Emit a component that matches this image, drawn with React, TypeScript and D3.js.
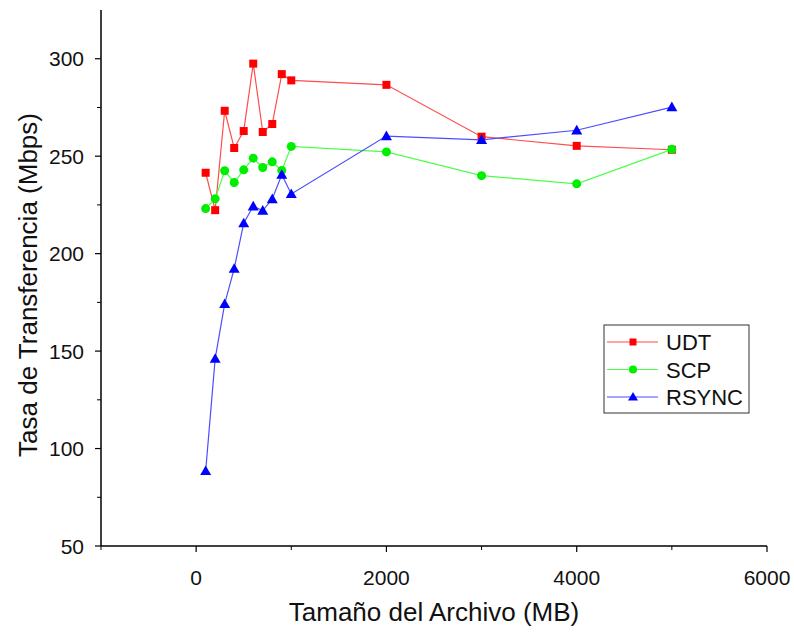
import React from "react";
import * as d3 from "d3";

const sizes = [100, 200, 300, 400, 500, 600, 700, 800, 900, 1000, 2000, 3000, 4000, 5000];
const udt = [241.5, 222.3, 273.3, 254.2, 262.9, 297.5, 262.4, 266.5, 292.1, 288.9, 286.6, 260, 255.3, 253.3];
const scp = [223.1, 228.1, 242.5, 236.5, 243, 249, 244.2, 247.1, 242.7, 255, 252.2, 240, 235.8, 253.5];
const rsync = [88.5, 146.1, 174.2, 192.3, 215.6, 224.3, 222.1, 228, 240.5, 230.6, 260.3, 258.4, 263.3, 275.2];
const seriesNames = ["UDT", "SCP", "RSYNC"];
const xMajorTicks = [0, 2000, 4000, 6000];
const xMinorTicks = [-1000, 1000, 3000, 5000];
const yMajorTicks = [50, 100, 150, 200, 250, 300];
const yMinorTicks = [75, 125, 175, 225, 275];

const FONT = "'Liberation Sans', Arial, sans-serif";

export default function App() {
  const W = 794, H = 633;
  const x = d3.scaleLinear().domain([-1000, 6000]).range([101, 767]);
  const y = d3.scaleLinear().domain([50, 325]).range([546, 10]);
  const series = [
    { name: seriesNames[0], values: udt, line: "#ff4d4d", fill: "#ff0000", shape: "square" },
    { name: seriesNames[1], values: scp, line: "#4dff4d", fill: "#00ee00", shape: "circle" },
    { name: seriesNames[2], values: rsync, line: "#4d4dff", fill: "#0000ff", shape: "triangle" },
  ];
  const lineGen = d3.line<[number, number]>().x((d) => x(d[0])).y((d) => y(d[1]));
  const marker = (shape: string, cx: number, cy: number, fill: string, key: any) => {
    if (shape === "square") return <rect key={key} x={cx - 4} y={cy - 4} width={8} height={8} fill={fill} />;
    if (shape === "circle") return <circle key={key} cx={cx} cy={cy} r={4.5} fill={fill} />;
    const s = 5.5;
    return <path key={key} d={`M${cx},${cy - s}L${cx + s},${cy + s * 0.75}L${cx - s},${cy + s * 0.75}Z`} fill={fill} />;
  };
  const legendX = 604, legendY = 325;
  return (
    <svg width={W} height={H} style={{ position: "absolute", left: 0, top: 0, background: "#fff" }} fontFamily={FONT}>
      {/* axes */}
      <line x1={101} x2={101} y1={10} y2={546} stroke="#000" strokeWidth={1.5} />
      <line x1={101} x2={767} y1={546} y2={546} stroke="#000" strokeWidth={1.5} />
      {yMajorTicks.map((t) => (
        <g key={"ym" + t}>
          <line x1={95} x2={101} y1={y(t)} y2={y(t)} stroke="#000" strokeWidth={1.2} />
          <text x={84} y={y(t) + 7.5} textAnchor="end" fontSize={21} fill="#111">{t}</text>
        </g>
      ))}
      {yMinorTicks.map((t) => (
        <line key={"yn" + t} x1={97} x2={101} y1={y(t)} y2={y(t)} stroke="#000" strokeWidth={1} />
      ))}
      {xMajorTicks.map((t) => (
        <g key={"xm" + t}>
          <line x1={x(t)} x2={x(t)} y1={546} y2={552} stroke="#000" strokeWidth={1.2} />
          <text x={x(t)} y={585} textAnchor="middle" fontSize={21} fill="#111">{t}</text>
        </g>
      ))}
      {xMinorTicks.map((t) => (
        <line key={"xn" + t} x1={x(t)} x2={x(t)} y1={546} y2={550} stroke="#000" strokeWidth={1} />
      ))}
      <text x={434} y={621} textAnchor="middle" fontSize={26} fill="#111">Tamaño del Archivo (MB)</text>
      <text transform={`translate(37,285) rotate(-90)`} textAnchor="middle" fontSize={26} fill="#111">Tasa de Transferencia (Mbps)</text>
      {/* series */}
      {series.map((s) => {
        const pts: [number, number][] = sizes.map((v, i) => [v, s.values[i]]);
        return (
          <g key={s.name}>
            <path d={lineGen(pts) || ""} fill="none" stroke={s.line} strokeWidth={1.2} />
            {pts.map((p, i) => marker(s.shape, x(p[0]), y(p[1]), s.fill, i))}
          </g>
        );
      })}
      {/* legend */}
      <rect x={legendX} y={legendY} width={145} height={88} fill="#fff" stroke="#333" strokeWidth={1} />
      {series.map((s, i) => {
        const ly = legendY + 17 + i * 27.5;
        return (
          <g key={"lg" + s.name}>
            <line x1={legendX + 3} x2={legendX + 54} y1={ly} y2={ly} stroke={s.line} strokeWidth={1.2} />
            {s.shape === "square" ? (
              <rect x={legendX + 29 - 3.5} y={ly - 3.5} width={7} height={7} fill={s.fill} />
            ) : s.shape === "circle" ? (
              <circle cx={legendX + 29} cy={ly} r={4} fill={s.fill} />
            ) : (
              <path d={`M${legendX + 29},${ly - 5}L${legendX + 34},${ly + 3.5}L${legendX + 24},${ly + 3.5}Z`} fill={s.fill} />
            )}
            <text x={legendX + 62} y={ly + 8} fontSize={22} fill="#111">{s.name}</text>
          </g>
        );
      })}
    </svg>
  );
}
